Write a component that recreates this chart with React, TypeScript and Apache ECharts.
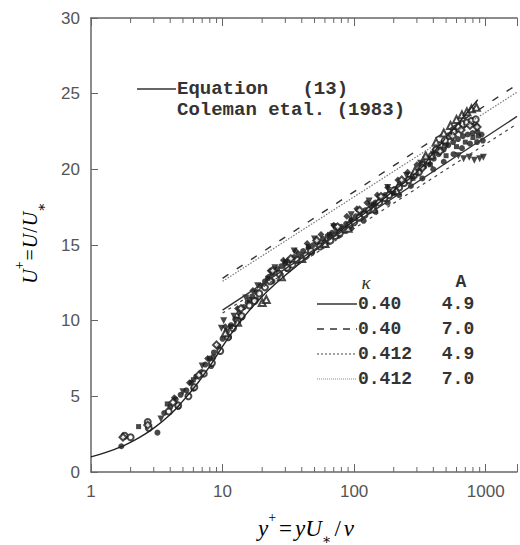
import React, { useEffect, useRef } from 'react';
import * as echarts from 'echarts';

// x axis (y+) range, log scale
const xMin = 1;
const xMax = 1730;
const xLabelValues = [1, 10, 100, 1000];
const minorTickValues = [
  2, 3, 4, 5, 6, 7, 8, 9,
  20, 30, 40, 50, 60, 70, 80, 90,
  200, 300, 400, 500, 600, 700, 800, 900,
];

// Equation (13) curve [y+, U+]
const equation13 = [
  [1, 1.0], [1.3, 1.3], [1.7, 1.68], [2.2, 2.15], [3, 2.9], [4, 3.8], [5, 4.7],
  [6.5, 5.9], [8, 7.0], [10, 8.3], [12, 9.3], [15, 10.4], [20, 11.6], [25, 12.4],
  [30, 13.0], [40, 13.9], [50, 14.6], [70, 15.6], [100, 16.6], [150, 17.7],
  [200, 18.6], [300, 19.8], [400, 21.1], [500, 22.1], [600, 22.9], [700, 23.6], [870, 24.6],
];

// log-law lines (endpoints)
const lawK040A49 = [[10, 10.7], [1730, 23.5]];
const lawK040A70 = [[10, 12.8], [1730, 25.6]];
const lawK0412A49 = [[10, 10.5], [1730, 23.0]];
const lawK0412A70 = [[10, 12.6], [1730, 25.1]];

// Coleman et al. (1983) data, several marker kinds
const filledCircles = [
  [1.7, 1.7], [3.2, 2.6], [3.6, 3.9], [4.0, 4.3], [4.4, 4.8], [4.8, 5.1], [5.3, 5.4], [5.8, 5.9],
  [6.3, 6.3], [6.9, 6.6], [7.4, 7.1], [8.0, 7.5], [8.6, 7.9], [9.3, 8.3], [10, 8.8], [10.8, 9.3],
  [11.6, 9.7], [12.5, 10.1], [13.4, 10.5], [14.5, 10.9], [15.5, 11.2], [16.8, 11.6], [18, 11.9],
  [19.5, 12.3], [21, 12.6], [22.5, 12.9], [24, 13.1], [26, 13.4], [28, 13.6], [30, 13.8], [32, 14.0],
  [35, 14.2], [38, 14.4], [41, 14.6], [45, 14.8], [49, 15.0], [53, 15.2], [58, 15.4], [63, 15.6],
  [68, 15.8], [74, 16.0], [80, 16.2], [87, 16.4], [95, 16.6], [103, 16.9], [112, 17.1], [122, 17.3],
  [133, 17.6], [145, 17.8], [158, 18.0], [172, 18.3], [187, 18.5], [204, 18.7], [222, 19.0],
  [242, 19.2], [263, 19.4], [286, 19.6], [312, 19.9], [340, 20.2], [370, 20.4], [403, 20.7],
  [439, 21.0], [478, 21.3], [520, 21.6], [566, 21.8], [616, 22.0], [671, 22.2], [730, 22.3],
  [795, 22.4], [865, 22.5], [930, 22.3],
];
const filledCirclesLow = [
  [4.6, 4.3], [6.0, 5.5], [8.2, 7.0], [11.2, 8.9], [14, 10.2], [18, 11.4], [24, 12.6], [31, 13.4],
  [39, 14.0], [48, 14.5], [60, 15.0], [76, 15.6], [95, 16.1], [118, 16.6], [145, 17.2], [180, 17.8],
  [220, 18.3], [270, 18.9], [330, 19.4], [400, 20.0], [480, 20.5], [570, 21.0], [660, 21.4],
  [760, 21.7], [860, 21.8], [950, 21.9],
];
const filledDiamonds = [
  [4.3, 4.9], [5.6, 5.9], [7.7, 7.5], [10.5, 9.6], [13, 10.8], [17, 12.0], [23, 13.3], [29, 14.0],
  [36, 14.6], [44, 15.1], [56, 15.7], [70, 16.3], [88, 16.9], [105, 17.4], [125, 17.8], [150, 18.3],
  [180, 18.8], [215, 19.3], [255, 19.8], [300, 20.3], [350, 20.8], [410, 21.3], [470, 21.8],
  [540, 22.3], [610, 22.6], [690, 22.9], [770, 23.0], [850, 22.9],
];
const openCircles = [
  [1.8, 2.4], [2.0, 2.3], [2.7, 3.3], [2.75, 2.9], [3.9, 4.0], [4.6, 4.4], [5.5, 5.0], [6.1, 5.6],
  [7.2, 6.5], [8.3, 7.2], [9.6, 8.0], [11, 8.9], [12, 9.5], [13, 10.0], [14, 10.3], [16, 11.0],
  [17.5, 11.3], [19, 11.8], [21, 12.2], [23, 12.6], [27, 13.1], [31, 13.5], [34, 13.7], [37, 14.0],
  [43, 14.3], [47, 14.6], [55, 14.9], [60, 15.1], [66, 15.3], [72, 15.6], [78, 15.8], [85, 16.0],
  [92, 16.3], [100, 16.5], [110, 16.8], [120, 17.0], [130, 17.3], [140, 17.5], [155, 17.8],
  [170, 18.1], [185, 18.3], [200, 18.6], [220, 18.8], [240, 19.1], [260, 19.3], [285, 19.6],
  [310, 19.8], [330, 20.3], [360, 20.6], [390, 20.9], [420, 21.3], [450, 21.6], [490, 21.9],
  [530, 22.2], [570, 22.5], [620, 22.8], [670, 23.0], [720, 23.1], [780, 23.2], [840, 23.3],
];
const filledTrianglesDown = [
  [3.4, 3.5], [5.0, 5.3], [7.0, 7.0], [9.8, 9.5], [10.2, 10.0], [12.2, 10.3], [15, 11.5],
  [18.5, 12.3], [25, 13.5], [35, 14.6], [50, 15.4], [70, 16.2], [95, 17.0], [130, 17.9],
  [180, 18.8], [250, 19.6], [320, 20.4], [400, 21.0], [500, 21.5], [620, 20.9], [680, 20.7],
  [750, 20.8], [820, 20.6], [900, 20.7], [960, 20.8],
];
const openTriangles = [
  [10.5, 9.2], [13, 9.9], [20, 11.2], [21.5, 11.4], [28, 12.9], [40, 14.1], [60, 15.1], [90, 16.1],
  [140, 17.4], [210, 18.6], [290, 19.9], [350, 20.9], [420, 21.8], [480, 22.4], [540, 22.9],
  [600, 23.3], [660, 23.6], [720, 23.8], [780, 24.0], [850, 24.1],
];
const filledSquares = [
  [2.3, 3.0], [3.8, 4.5], [6, 6.1], [8.5, 7.6], [11.5, 9.6], [16, 11.4], [22, 12.8], [30, 13.9],
  [45, 14.9], [65, 15.7], [95, 16.7], [140, 17.7], [200, 18.4], [280, 19.4], [380, 20.3],
  [500, 20.9], [600, 21.5], [700, 21.8], [800, 22.1], [880, 22.2],
];
const openDiamonds = [
  [1.75, 2.3], [2.7, 3.1], [4.2, 4.6], [6.6, 6.4], [9, 8.4], [13.8, 10.8], [24, 13.3], [33, 14.1],
  [52, 15.3], [75, 16.2], [110, 17.3], [160, 18.2], [230, 19.3], [330, 20.1], [450, 21.2],
  [560, 22.2], [650, 22.6], [760, 22.9], [860, 22.8],
];

const legendRows = [
  { kappa: '0.40', A: '4.9', dash: 'solid', color: '#333', width: 1.4 },
  { kappa: '0.40', A: '7.0', dash: [7, 6], color: '#333', width: 1.4 },
  { kappa: '0.412', A: '4.9', dash: [2, 2], color: '#444', width: 1.2 },
  { kappa: '0.412', A: '7.0', dash: [1, 1], color: '#888', width: 1.2 },
];

const AXIS = '#666';
const LABEL = '#555';
const INK = '#1a1a1a';
const MONO = '"Liberation Mono", "DejaVu Sans Mono", monospace';
const SERIF = '"Liberation Serif", "DejaVu Serif", serif';

function makeRich(size: number, pad: number) {
  return {
    i: { fontFamily: SERIF, fontStyle: 'italic', fontSize: size, lineHeight: 36, verticalAlign: 'middle', color: '#222' },
    n: { fontFamily: SERIF, fontSize: size, lineHeight: 36, verticalAlign: 'middle', color: '#222', padding: [0, pad, 0, pad] },
    sup: { fontFamily: SERIF, fontSize: 14, lineHeight: 12, verticalAlign: 'top', color: '#222' },
    sub: { fontFamily: SERIF, fontSize: 14, lineHeight: 12, verticalAlign: 'bottom', color: '#222' },
  };
}

function buildOption() {
  const scatterBase = { type: 'scatter', z: 3, silent: true };
  const lineBase = { type: 'line', symbol: 'none', showSymbol: false, silent: true, z: 4 };

  const graphics: any[] = [];
  // Legend block 1
  graphics.push({
    type: 'line', z: 10,
    shape: { x1: 137, y1: 89, x2: 176, y2: 89 },
    style: { stroke: '#333', lineWidth: 1.5 },
  });
  graphics.push({
    type: 'text', z: 10, x: 177, y: 89,
    style: { text: 'Equation   (13)', font: `bold 19px ${MONO}`, fill: '#333', verticalAlign: 'middle', align: 'left' },
  });
  graphics.push({
    type: 'text', z: 10, x: 177, y: 110,
    style: { text: 'Coleman etal. (1983)', font: `bold 19px ${MONO}`, fill: '#333', verticalAlign: 'middle', align: 'left' },
  });
  // Legend block 2 header
  graphics.push({
    type: 'text', z: 10, x: 366, y: 282,
    style: { text: 'κ', font: `italic 19px ${SERIF}`, fill: '#333', verticalAlign: 'middle', align: 'center' },
  });
  graphics.push({
    type: 'text', z: 10, x: 461, y: 282,
    style: { text: 'A', font: `bold 18px ${MONO}`, fill: '#333', verticalAlign: 'middle', align: 'center' },
  });
  legendRows.forEach((r, i) => {
    const y = 304 + i * 25;
    graphics.push({
      type: 'line', z: 10,
      shape: { x1: 317, y1: y, x2: 357, y2: y },
      style: { stroke: r.color, lineWidth: r.width, lineDash: r.dash === 'solid' ? null : r.dash },
    });
    graphics.push({
      type: 'text', z: 10, x: 358, y,
      style: { text: r.kappa, font: `bold 18px ${MONO}`, fill: '#333', verticalAlign: 'middle', align: 'left' },
    });
    graphics.push({
      type: 'text', z: 10, x: 458, y,
      style: { text: r.A, font: `bold 18px ${MONO}`, fill: '#333', verticalAlign: 'middle', align: 'center' },
    });
  });
  // Axis titles
  graphics.push({
    type: 'text', z: 10, x: 306, y: 528,
    style: {
      text: '{i|y}{sup|+}{n|=}{i|yU}{sub|∗}{n|/}{i|ν}',
      rich: makeRich(23, 3), align: 'center', verticalAlign: 'middle',
    },
  });
  graphics.push({
    type: 'text', z: 10, x: 30, y: 243, rotation: Math.PI / 2,
    style: {
      text: '{i|U}{sup|+}{n|=}{i|U}{n|/}{i|U}{sub|∗}',
      rich: makeRich(20, 1), align: 'center', verticalAlign: 'middle',
    },
  });

  return {
    animation: false,
    backgroundColor: '#fff',
    grid: { left: 91, right: 0, top: 18, bottom: 73, containLabel: false },
    xAxis: [
      {
        type: 'log', logBase: 10, min: xMin, max: xMax, position: 'bottom',
        axisLine: { show: true, lineStyle: { color: AXIS, width: 1.5 } },
        axisTick: { show: true, inside: true, length: 8, lineStyle: { color: AXIS, width: 1 } },
        axisLabel: {
          color: LABEL, fontSize: 17, fontFamily: '"Liberation Sans", Arial, sans-serif', margin: 11,
          formatter: (v: number) => {
            const r = Math.round(v);
            return xLabelValues.includes(r) && Math.abs(v - r) < 1e-6 * r + 1e-6 ? String(r) : '';
          },
        },
        splitLine: { show: false },
        minorTick: { show: false },
      },
      {
        type: 'log', logBase: 10, min: xMin, max: xMax, position: 'top',
        axisLine: { show: true, lineStyle: { color: AXIS, width: 1.5 } },
        axisTick: { show: true, inside: true, length: 8, lineStyle: { color: AXIS, width: 1 } },
        axisLabel: { show: false },
        splitLine: { show: false },
      },
    ],
    yAxis: {
      type: 'value', min: 0, max: 30, interval: 5,
      axisLine: { show: true, lineStyle: { color: AXIS, width: 1.5 } },
      axisTick: { show: true, inside: true, length: 7, lineStyle: { color: AXIS, width: 1 } },
      axisLabel: { color: LABEL, fontSize: 17, fontFamily: '"Liberation Sans", Arial, sans-serif', margin: 11 },
      splitLine: { show: false },
    },
    series: [
      {
        type: 'custom', silent: true, clip: false, z: 2,
        data: minorTickValues.map((v) => [v, 0]),
        encode: { x: 0, y: 1 },
        renderItem: (_p: any, api: any) => {
          const v = api.value(0);
          const b = api.coord([v, 0]);
          const t = api.coord([v, 30]);
          return {
            type: 'group',
            children: [
              { type: 'line', shape: { x1: b[0], y1: b[1], x2: b[0], y2: b[1] - 5 }, style: { stroke: AXIS, lineWidth: 1 } },
              { type: 'line', shape: { x1: t[0], y1: t[1], x2: t[0], y2: t[1] + 5 }, style: { stroke: AXIS, lineWidth: 1 } },
            ],
          };
        },
      },
      { ...lineBase, name: 'Equation (13)', data: equation13, smooth: true, lineStyle: { color: '#222', width: 1.4 } },
      { ...lineBase, name: 'κ=0.40 A=4.9', data: lawK040A49, lineStyle: { color: '#333', width: 1.4 } },
      { ...lineBase, name: 'κ=0.40 A=7.0', data: lawK040A70, lineStyle: { color: '#333', width: 1.4, type: [7, 10] } },
      { ...lineBase, name: 'κ=0.412 A=4.9', data: lawK0412A49, lineStyle: { color: '#444', width: 1.2, type: [3, 4] } },
      { ...lineBase, name: 'κ=0.412 A=7.0', data: lawK0412A70, lineStyle: { color: '#777', width: 1.2, type: [1.5, 1.5] } },
      { ...scatterBase, name: 'filled circles', data: filledCircles, symbol: 'circle', symbolSize: 6, itemStyle: { color: INK } },
      { ...scatterBase, name: 'filled circles low', data: filledCirclesLow, symbol: 'circle', symbolSize: 6, itemStyle: { color: INK } },
      { ...scatterBase, name: 'filled diamonds', data: filledDiamonds, symbol: 'diamond', symbolSize: 7, itemStyle: { color: INK } },
      { ...scatterBase, name: 'open circles', data: openCircles, symbol: 'emptyCircle', symbolSize: 6, itemStyle: { color: INK, borderWidth: 1 } },
      { ...scatterBase, name: 'filled triangles', data: filledTrianglesDown, symbol: 'triangle', symbolRotate: 180, symbolSize: 7, itemStyle: { color: INK } },
      { ...scatterBase, name: 'open triangles', data: openTriangles, symbol: 'emptyTriangle', symbolSize: 7, itemStyle: { color: INK, borderWidth: 1 } },
      { ...scatterBase, name: 'filled squares', data: filledSquares, symbol: 'rect', symbolSize: 5, itemStyle: { color: INK } },
      { ...scatterBase, name: 'open diamonds', data: openDiamonds, symbol: 'emptyDiamond', symbolSize: 7, itemStyle: { color: INK, borderWidth: 1 } },
    ],
    graphic: graphics,
  };
}

export default function App() {
  const ref = useRef<HTMLDivElement>(null);
  useEffect(() => {
    if (!ref.current) return;
    const chart = echarts.init(ref.current, null, { renderer: 'svg' });
    chart.setOption(buildOption() as any);
    return () => chart.dispose();
  }, []);
  return (
    <div
      ref={ref}
      style={{ position: 'fixed', left: 0, top: 0, width: 520, height: 545, background: '#fff' }}
    />
  );
}
